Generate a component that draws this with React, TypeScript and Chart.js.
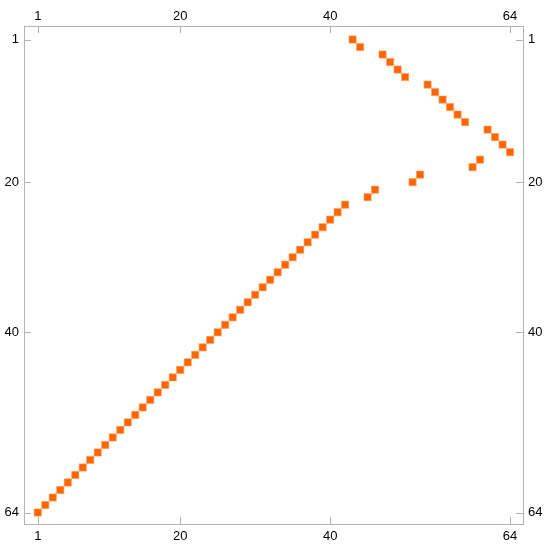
import React, { useEffect, useRef } from "react";
import { Chart, registerables } from "chart.js";

Chart.register(...registerables);

// Permutation matrix: row index -> column index of the single filled cell
const rowValues = [
  1, 2, 3, 4, 5, 6, 7, 8, 9, 10, 11, 12, 13, 14, 15, 16, 17, 18, 19, 20, 21, 22,
  23, 24, 25, 26, 27, 28, 29, 30, 31, 32, 33, 34, 35, 36, 37, 38, 39, 40, 41, 42,
  43, 44, 45, 46, 47, 48, 49, 50, 51, 52, 53, 54, 55, 56, 57, 58, 59, 60, 61, 62,
  63, 64,
];
const colValues = [
  43, 44, 47, 48, 49, 50, 53, 54, 55, 56, 57, 58, 61, 62, 63, 64, 60, 59, 52, 51,
  46, 45, 42, 41, 40, 39, 38, 37, 36, 35, 34, 33, 32, 31, 30, 29, 28, 27, 26, 25,
  24, 23, 22, 21, 20, 19, 18, 17, 16, 15, 14, 13, 12, 11, 10, 9, 8, 7, 6, 5, 4,
  3, 2, 1,
];
const tickValues = [1, 20, 40, 64];

const FRAME = "#b3b3b3";
const ORANGE = "#ff6600";

const X_MIN = -0.84;
const X_MAX = 65.73;
const Y_MIN = -0.8;
const Y_MAX = 65.53;

const innerTicks = {
  id: "innerTicks",
  afterDraw(chart: any) {
    const { ctx, chartArea: a, scales } = chart;
    const len = 7;
    ctx.save();
    ctx.strokeStyle = FRAME;
    ctx.lineWidth = 1;
    ctx.beginPath();
    for (const v of tickValues) {
      const x = Math.round(scales.x.getPixelForValue(v)) + 0.5;
      ctx.moveTo(x, a.top);
      ctx.lineTo(x, a.top + len);
      ctx.moveTo(x, a.bottom);
      ctx.lineTo(x, a.bottom - len);
      const y = Math.round(scales.y.getPixelForValue(v)) + 0.5;
      ctx.moveTo(a.left, y);
      ctx.lineTo(a.left + len, y);
      ctx.moveTo(a.right, y);
      ctx.lineTo(a.right - len, y);
    }
    ctx.stroke();
    ctx.restore();
  },
};

function setTicks(scale: any) {
  scale.ticks = tickValues.map((v) => ({ value: v }));
}

function axisCommon(min: number, max: number, reverse: boolean, padding: number) {
  return {
    type: "linear" as const,
    min,
    max,
    reverse,
    afterBuildTicks: setTicks,
    grid: { display: false, drawTicks: false },
    border: { display: true, color: FRAME, width: 1 },
    ticks: {
      color: "#000",
      font: { family: "'Liberation Sans', Arial, sans-serif", size: 13 },
      padding,
      autoSkip: false,
      maxRotation: 0,
    },
  };
}

export default function App() {
  const ref = useRef<HTMLCanvasElement | null>(null);

  useEffect(() => {
    if (!ref.current) return;
    const points = rowValues.map((r, i) => ({ x: colValues[i], y: r }));
    const chart = new Chart(ref.current, {
      type: "scatter",
      data: {
        datasets: [
          {
            data: points,
            xAxisID: "x",
            yAxisID: "y",
            pointStyle: "rect",
            pointRadius: 5.1,
            pointHoverRadius: 5.1,
            backgroundColor: ORANGE,
            borderColor: "#ff9a5a",
            borderWidth: 0.6,
          },
        ],
      },
      options: {
        animation: false,
        responsive: false,
        layout: { padding: 0 },
        plugins: {
          legend: { display: false },
          tooltip: { enabled: false },
        },
        scales: {
          x: {
            ...axisCommon(X_MIN, X_MAX, false, 5),
            position: "bottom",
            afterFit: (s: any) => {
              s.height = 26;
            },
          },
          x2: {
            ...axisCommon(X_MIN, X_MAX, false, 2),
            position: "top",
            afterFit: (s: any) => {
              s.height = 26;
            },
          },
          y: {
            ...axisCommon(Y_MIN, Y_MAX, true, 5),
            position: "left",
            afterFit: (s: any) => {
              s.width = 24;
            },
          },
          y2: {
            ...axisCommon(Y_MIN, Y_MAX, true, 5),
            position: "right",
            afterFit: (s: any) => {
              s.width = 23;
            },
          },
        },
      } as any,
      plugins: [innerTicks],
    });
    return () => chart.destroy();
  }, []);

  return (
    <div
      style={{
        position: "absolute",
        left: 0,
        top: 0,
        width: 546,
        height: 550,
        background: "#fff",
      }}
    >
      <canvas ref={ref} width={546} height={550} style={{ display: "block" }} />
    </div>
  );
}
